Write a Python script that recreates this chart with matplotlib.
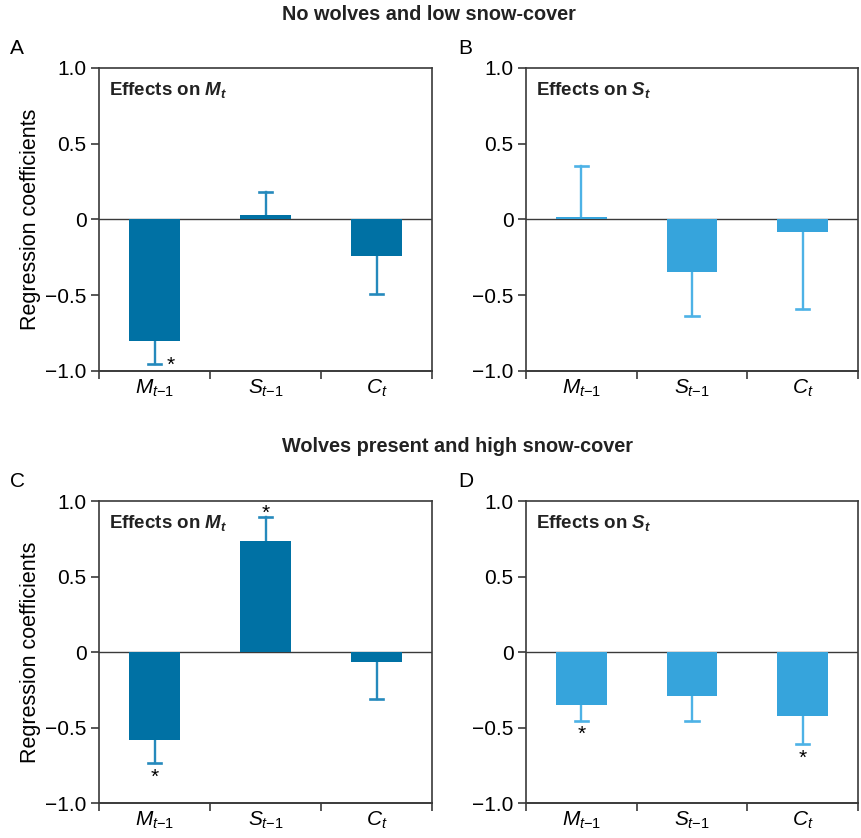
import matplotlib

matplotlib.use("Agg")
import matplotlib.pyplot as plt
import numpy as np

plt.rcParams["font.family"] = ["Liberation Sans", "DejaVu Sans"]
plt.rcParams["mathtext.fontset"] = "custom"
plt.rcParams["mathtext.rm"] = "Liberation Sans"
plt.rcParams["mathtext.it"] = "Liberation Sans:italic"
plt.rcParams["mathtext.bf"] = "Liberation Sans:bold"
plt.rcParams["mathtext.bfit"] = "Liberation Sans:bold:italic"

categories = [r"$M_{t\mathit{-1}}$", r"$S_{t\mathit{-1}}$", r"$C_t$"]

# coefficient and one-sided error bar end, per panel
coef_a = [-0.80, 0.032, -0.242]
err_a = [-0.955, 0.18, -0.493]
coef_b = [0.018, -0.348, -0.084]
err_b = [0.355, -0.64, -0.59]
coef_c = [-0.58, 0.733, -0.066]
err_c = [-0.735, 0.893, -0.31]
coef_d = [-0.35, -0.293, -0.425]
err_d = [-0.455, -0.455, -0.61]

# significance stars per panel
star_a = [True, False, False]
star_b = [False, False, False]
star_c = [True, True, False]
star_d = [True, False, True]

DARK = "#0071A4"
DARK_ERR = "#2589BC"
LIGHT = "#36A4DC"
LIGHT_ERR = "#4DB2E6"
SPINE = "#3a3a3a"

fig = plt.figure(figsize=(8.61, 8.38), dpi=100)

W, H = 861, 838


def make_ax(left, top, right, bottom):
    return fig.add_axes([left / W, 1 - bottom / H, (right - left) / W, (bottom - top) / H])


panels = [
    ("A", make_ax(99, 68, 432, 371), coef_a, err_a, star_a, DARK, DARK_ERR, r"Effects on $\mathbfit{M_t}$", True),
    ("B", make_ax(526, 68, 858, 371), coef_b, err_b, star_b, LIGHT, LIGHT_ERR, r"Effects on $\mathbfit{S_t}$", False),
    ("C", make_ax(99, 501, 432, 803), coef_c, err_c, star_c, DARK, DARK_ERR, r"Effects on $\mathbfit{M_t}$", True),
    ("D", make_ax(526, 501, 858, 803), coef_d, err_d, star_d, LIGHT, LIGHT_ERR, r"Effects on $\mathbfit{S_t}$", False),
]

x = np.arange(len(categories))

for letter, ax, coef, err, stars, color, ecolor, label, ylab in panels:
    coef = np.array(coef)
    err = np.array(err)
    ax.bar(x, coef, width=0.46, color=color, zorder=3)
    # one-sided error bars, away from zero
    for i in range(len(x)):
        ax.plot([x[i], x[i]], [coef[i], err[i]], color=ecolor, lw=1.7, zorder=1)
        ax.plot([x[i] - 0.06, x[i] + 0.06], [err[i], err[i]], color=ecolor, lw=1.9, zorder=1)
    ax.axhline(0, color=SPINE, lw=1.0, zorder=2)

    for i, s in enumerate(stars):
        if not s:
            continue
        if err[i] > 0:
            ax.text(x[i], err[i] - 0.04, "*", ha="center", va="bottom", fontsize=15)
        elif letter == "A":
            ax.text(x[i] + 0.15, err[i] - 0.005, "*", ha="center", va="center", fontsize=15)
        else:
            ax.text(x[i], err[i] - 0.03, "*", ha="center", va="top", fontsize=15)

    ax.set_xlim(-0.5, 2.5)
    ax.set_ylim(-1.0, 1.0)
    ax.set_yticks([-1.0, -0.5, 0, 0.5, 1.0])
    ax.set_yticklabels(["\u22121.0", "\u22120.5", "0", "0.5", "1.0"])
    ax.set_xticks([-0.5, 0.5, 1.5, 2.5])
    ax.set_xticklabels([])
    ax.set_xticks(x, minor=True)
    ax.set_xticklabels(categories, minor=True, fontsize=15)
    ax.tick_params(axis="x", which="minor", length=0, pad=5)
    ax.tick_params(axis="x", which="major", direction="out", length=6, width=1.2, color=SPINE)
    ax.tick_params(axis="y", direction="out", length=6, width=1.2, color=SPINE, labelsize=15, pad=3)
    for sp in ax.spines.values():
        sp.set_color(SPINE)
        sp.set_linewidth(1.2)
    ax.spines["bottom"].set_linewidth(1.4)

    ax.text(0.03, 0.96, label, transform=ax.transAxes, ha="left", va="top",
            fontsize=13.5, fontweight="bold", color="#222222")
    if ylab:
        ax.set_ylabel("Regression coefficients", fontsize=15.5, labelpad=3)

letter_pos = {"A": (10, 48), "B": (458, 48), "C": (10, 481), "D": (458, 481)}
for k, (px, py) in letter_pos.items():
    fig.text(px / W, 1 - py / H, k, fontsize=15, ha="left", va="center")

fig.text(282 / W, 1 - 14 / H, "No wolves and low snow-cover", fontsize=14.3, fontweight="bold",
         ha="left", va="center", color="#222222")
fig.text(282 / W, 1 - 446 / H, "Wolves present and high snow-cover", fontsize=14.3, fontweight="bold",
         ha="left", va="center", color="#222222")

fig.savefig("out.png", dpi=100)
